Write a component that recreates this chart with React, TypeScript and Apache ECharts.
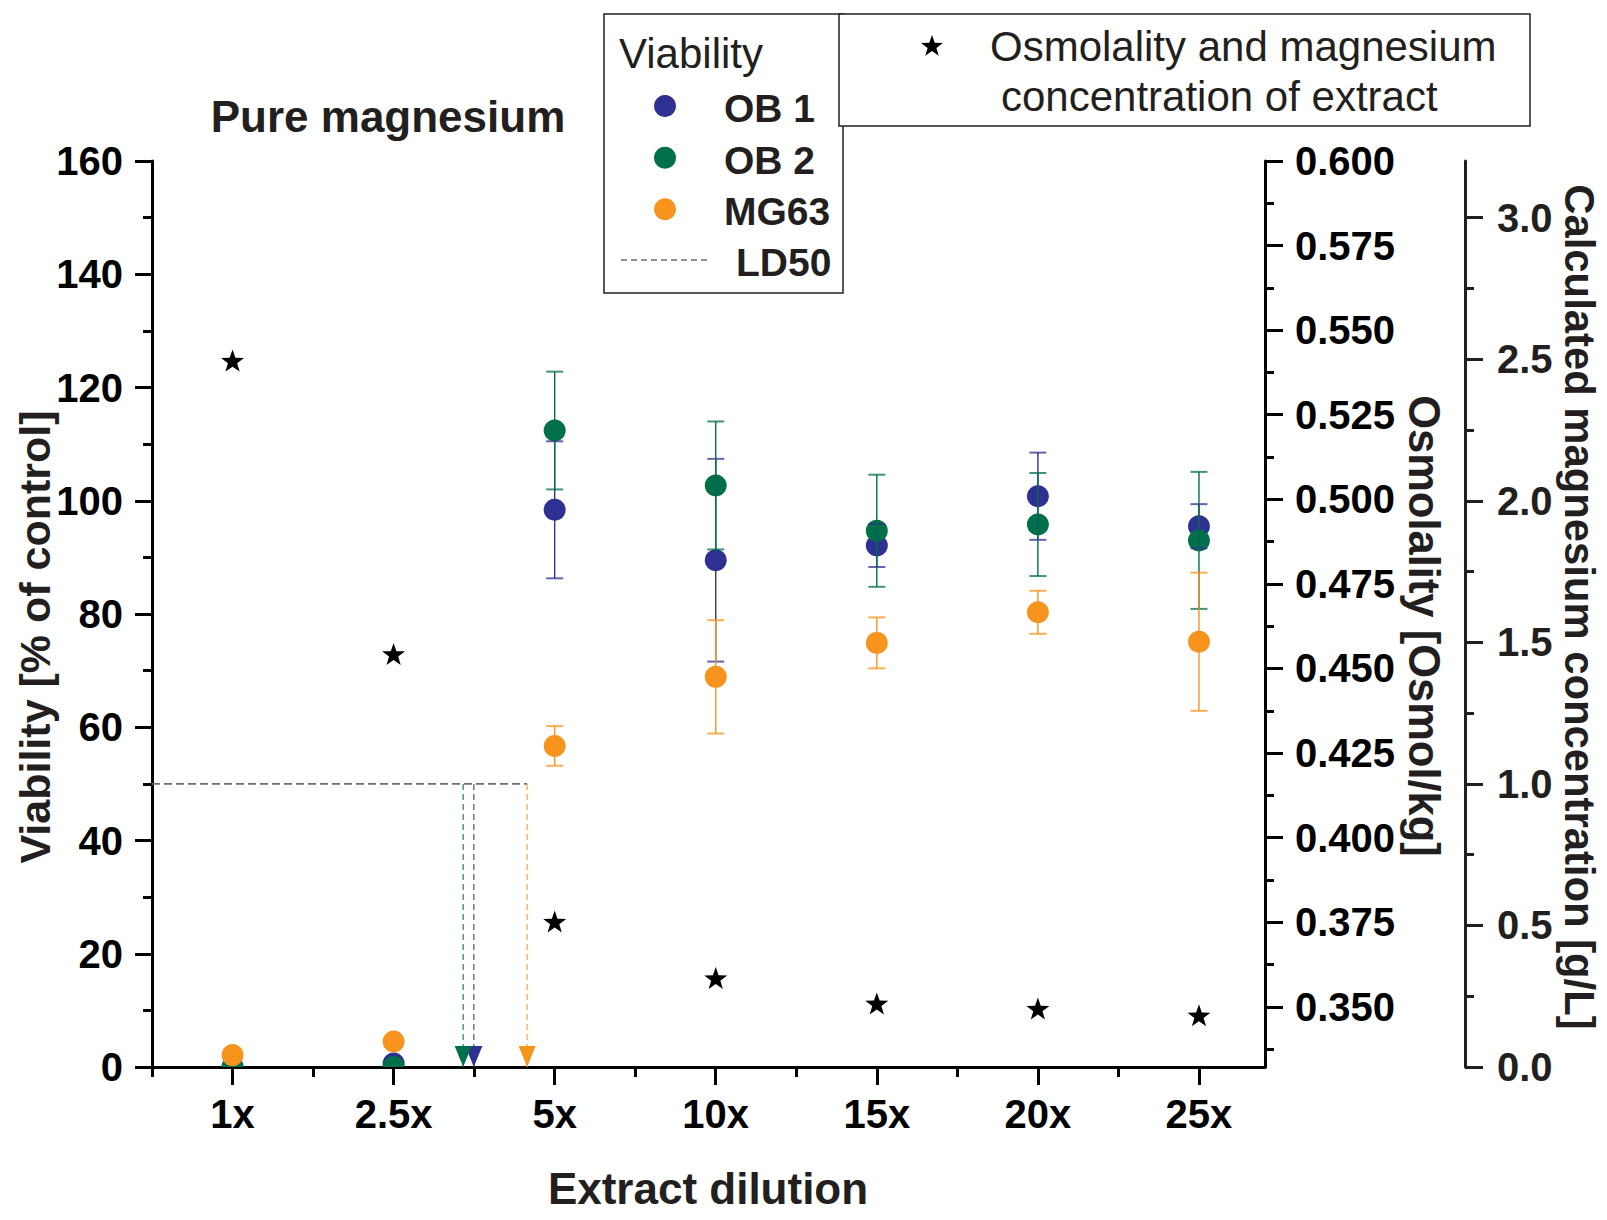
import React, { useEffect, useRef } from "react";
import * as echarts from "echarts";

// ---------- data ----------
const categories = ["1x", "2.5x", "5x", "10x", "15x", "20x", "25x"];
const xPositions = [1, 2, 3, 4, 5, 6, 7];
const xMinorTicks = [0.5, 1.5, 2.5, 3.5, 4.5, 5.5, 6.5];

const ob1Mean = [0, 0.6, 98.4, 89.5, 92.1, 100.8, 95.5];
const ob1Sd = [0, 0, 12.1, 17.9, 3.8, 7.7, 3.9];
const ob2Mean = [0, 0, 112.4, 102.7, 94.7, 95.8, 93.0];
const ob2Sd = [0, 0, 10.4, 11.3, 9.9, 9.1, 12.1];
const mg63Mean = [2.1, 4.5, 56.7, 68.9, 74.9, 80.3, 75.1];
const mg63Sd = [0, 0, 3.5, 10.0, 4.5, 3.8, 12.2];

const osmolality = [0.541, 0.4543, 0.3752, 0.3585, 0.351, 0.3495, 0.3475];

const ld50Names = ["OB 1", "OB 2", "MG63"];
const ld50Positions = [2.498, 2.432, 2.829];
const ld50Level = 50;

const viabilityMin = 0;
const viabilityMax = 160;
const viabilityInterval = 20;

const osmMin = 0.3322;
const osmMax = 0.6;
const osmTicks = [0.35, 0.375, 0.4, 0.425, 0.45, 0.475, 0.5, 0.525, 0.55, 0.575, 0.6];
const osmMinorTicks = [0.3375, 0.3625, 0.3875, 0.4125, 0.4375, 0.4625, 0.4875, 0.5125, 0.5375, 0.5625, 0.5875];

const mgMin = 0;
const mgMax = 3.2;
const mgTicks = [0, 0.5, 1.0, 1.5, 2.0, 2.5, 3.0];
const mgMinorTicks = [0.25, 0.75, 1.25, 1.75, 2.25, 2.75];

const xMin = 0.5;
const xMax = 7.41;

// ---------- styles ----------
const FONT = "'Liberation Sans', Arial, Helvetica, sans-serif";
const BLUE = "#2e3192";
const GREEN = "#00704a";
const ORANGE = "#f7941d";
const INK = "#231f20";
const AXIS = "#000000";
const GRAY = "#6d6e71";
const MARKER_R = 11;

const STAR_PATH =
  "path://M0,-10 L2.35,-3.24 L9.51,-3.09 L3.8,1.24 L5.88,8.09 L0,4 L-5.88,8.09 L-3.8,1.24 L-9.51,-3.09 L-2.35,-3.24 Z";

function starPoints(cx: number, cy: number, R: number, r: number) {
  const pts: number[][] = [];
  for (let i = 0; i < 10; i++) {
    const rad = i % 2 === 0 ? R : r;
    const a = -Math.PI / 2 + (i * Math.PI) / 5;
    pts.push([cx + rad * Math.cos(a), cy + rad * Math.sin(a)]);
  }
  return pts;
}

function errData(mean: number[], sd: number[]) {
  const out: number[][] = [];
  mean.forEach((m, i) => {
    if (sd[i] > 0) out.push([xPositions[i], m - sd[i], m + sd[i]]);
  });
  return out;
}

function pointData(mean: number[]) {
  return mean.map((m, i) => [xPositions[i], m]);
}

// circles drawn through a clipped custom series so that points on the
// x axis are cut at the plot edge, as in the reference
function pointSeries(name: string, color: string, mean: number[], z: number) {
  return {
    type: "custom",
    name,
    xAxisIndex: 0,
    yAxisIndex: 0,
    z,
    clip: true,
    encode: { x: 0, y: 1 },
    data: pointData(mean),
    renderItem: (params: any, api: any) => {
      const p = api.coord([api.value(0), api.value(1)]);
      return {
        type: "circle",
        shape: { cx: p[0], cy: p[1], r: MARKER_R },
        style: { fill: color },
      };
    },
  };
}

function errorSeries(name: string, color: string, mean: number[], sd: number[], z: number) {
  return {
    type: "custom",
    name: name + " error",
    xAxisIndex: 0,
    yAxisIndex: 0,
    z,
    encode: { x: 0, y: [1, 2] },
    data: errData(mean, sd),
    renderItem: (params: any, api: any) => {
      const x = api.value(0);
      const lo = api.value(1);
      const hi = api.value(2);
      const pHi = api.coord([x, hi]);
      const pLo = api.coord([x, lo]);
      const cap = 8.5;
      return {
        type: "group",
        children: [
          {
            type: "line",
            shape: { x1: pHi[0], y1: pHi[1], x2: pLo[0], y2: pLo[1] },
            style: { stroke: color, lineWidth: 1.4 },
          },
          {
            type: "line",
            shape: { x1: pHi[0] - cap, y1: pHi[1], x2: pHi[0] + cap, y2: pHi[1] },
            style: { stroke: color, lineWidth: 2, opacity: 0.75 },
          },
          {
            type: "line",
            shape: { x1: pLo[0] - cap, y1: pLo[1], x2: pLo[0] + cap, y2: pLo[1] },
            style: { stroke: color, lineWidth: 2, opacity: 0.75 },
          },
        ],
      };
    },
  };
}

export default function App() {
  const ref = useRef<HTMLDivElement>(null);

  useEffect(() => {
    document.body.style.margin = "0";
    if (!ref.current) return;
    const chart = echarts.init(ref.current, undefined, { renderer: "svg" });

    const tickLine = { color: AXIS, width: 3 };
    const tickLabel = { fontSize: 40, fontWeight: "bold", color: AXIS, fontFamily: FONT };
    const ldColors = [BLUE, GREEN, ORANGE];
    const ldMax = Math.max(...ld50Positions);

    const ldSeries: any[] = [];
    ldSeries.push({
      type: "line",
      name: "LD50",
      xAxisIndex: 0,
      yAxisIndex: 0,
      z: 1,
      symbol: "none",
      silent: true,
      data: [
        [xMin, ld50Level],
        [ldMax, ld50Level],
      ],
      lineStyle: { color: GRAY, width: 1.6, type: [8, 4] },
    });
    ld50Positions.forEach((p, i) => {
      ldSeries.push({
        type: "line",
        name: ld50Names[i] + " LD50",
        xAxisIndex: 0,
        yAxisIndex: 0,
        z: 1,
        symbol: "none",
        silent: true,
        data: [
          [p, ld50Level],
          [p, 0],
        ],
        lineStyle: { color: ldColors[i], width: 1.4, type: [6, 4], opacity: 0.75 },
      });
      ldSeries.push({
        type: "scatter",
        name: ld50Names[i] + " LD50 marker",
        xAxisIndex: 0,
        yAxisIndex: 0,
        z: 3,
        symbol: "triangle",
        symbolSize: [17, 21],
        symbolRotate: 180,
        symbolOffset: [0, -10.5],
        itemStyle: { color: ldColors[i], opacity: 1 },
        data: [[p, 0]],
      });
    });

    const legendGraphics: any[] = [
      // title
      {
        type: "text",
        x: 388,
        y: 116,
        style: { text: "Pure magnesium", fontSize: 44, fontWeight: "bold", fontFamily: FONT, fill: INK, align: "center", verticalAlign: "middle" },
      },
      // axis titles
      {
        type: "text",
        x: 35,
        y: 637,
        rotation: Math.PI / 2,
        style: { text: "Viability [% of control]", fontSize: 43, fontWeight: "bold", fontFamily: FONT, fill: INK, align: "center", verticalAlign: "middle" },
      },
      {
        type: "text",
        x: 708,
        y: 1188,
        style: { text: "Extract dilution", fontSize: 44, fontWeight: "bold", fontFamily: FONT, fill: INK, align: "center", verticalAlign: "middle" },
      },
      {
        type: "text",
        x: 1424,
        y: 626,
        rotation: -Math.PI / 2,
        style: { text: "Osmolality [Osmol/kg]", fontSize: 43.5, fontWeight: "bold", fontFamily: FONT, fill: INK, align: "center", verticalAlign: "middle" },
      },
      {
        type: "text",
        x: 1579,
        y: 607,
        rotation: -Math.PI / 2,
        style: { text: "Calculated magnesium concentration [g/L]", fontSize: 41.8, fontWeight: "bold", fontFamily: FONT, fill: INK, align: "center", verticalAlign: "middle" },
      },
      // legend box 1
      {
        type: "rect",
        shape: { x: 604, y: 14, width: 239, height: 279 },
        style: { fill: "#fff", stroke: INK, lineWidth: 1.5 },
        z: 10,
      },
      {
        type: "text",
        x: 619,
        y: 53,
        z: 11,
        style: { text: "Viability", fontSize: 42, fontWeight: "normal", fontFamily: FONT, fill: INK, align: "left", verticalAlign: "middle" },
      },
      { type: "circle", z: 11, shape: { cx: 665, cy: 106, r: MARKER_R }, style: { fill: BLUE } },
      { type: "circle", z: 11, shape: { cx: 665, cy: 157.7, r: MARKER_R }, style: { fill: GREEN } },
      { type: "circle", z: 11, shape: { cx: 665, cy: 209.3, r: MARKER_R }, style: { fill: ORANGE } },
      {
        type: "text",
        x: 724,
        y: 108,
        z: 11,
        style: { text: "OB 1", fontSize: 39, fontWeight: "bold", fontFamily: FONT, fill: INK, align: "left", verticalAlign: "middle" },
      },
      {
        type: "text",
        x: 724,
        y: 160,
        z: 11,
        style: { text: "OB 2", fontSize: 39, fontWeight: "bold", fontFamily: FONT, fill: INK, align: "left", verticalAlign: "middle" },
      },
      {
        type: "text",
        x: 724,
        y: 211.5,
        z: 11,
        style: { text: "MG63", fontSize: 39, fontWeight: "bold", fontFamily: FONT, fill: INK, align: "left", verticalAlign: "middle" },
      },
      {
        type: "line",
        z: 11,
        shape: { x1: 621, y1: 260, x2: 707, y2: 260 },
        style: { stroke: GRAY, lineWidth: 1.5, lineDash: [6, 4] },
      },
      {
        type: "text",
        x: 736,
        y: 262,
        z: 11,
        style: { text: "LD50", fontSize: 39, fontWeight: "bold", fontFamily: FONT, fill: INK, align: "left", verticalAlign: "middle" },
      },
      // legend box 2
      {
        type: "rect",
        shape: { x: 839, y: 14, width: 691, height: 112 },
        style: { fill: "#fff", stroke: INK, lineWidth: 1.5 },
        z: 10,
      },
      {
        type: "polygon",
        z: 11,
        shape: { points: starPoints(932, 46.5, 11.5, 4.6) },
        style: { fill: "#000" },
      },
      {
        type: "text",
        x: 990,
        y: 46,
        z: 11,
        style: { text: "Osmolality and magnesium", fontSize: 42, fontWeight: "normal", fontFamily: FONT, fill: INK, align: "left", verticalAlign: "middle" },
      },
      {
        type: "text",
        x: 1001,
        y: 96,
        z: 11,
        style: { text: "concentration of extract", fontSize: 42, fontWeight: "normal", fontFamily: FONT, fill: INK, align: "left", verticalAlign: "middle" },
      },
    ];

    const option: any = {
      animation: false,
      backgroundColor: "#ffffff",
      grid: { left: 152, top: 161, width: 1113, height: 906, containLabel: false },
      xAxis: [
        {
          type: "value",
          min: xMin,
          max: xMax,
          position: "bottom",
          axisLine: { show: true, onZero: false, lineStyle: tickLine },
          axisTick: { show: true, customValues: xPositions, length: 18, lineStyle: tickLine },
          axisLabel: {
            show: true,
            customValues: xPositions,
            formatter: (v: number) => categories[Math.round(v) - 1] ?? "",
            margin: 27,
            ...tickLabel,
          },
          splitLine: { show: false },
        },
        {
          type: "value",
          min: xMin,
          max: xMax,
          position: "bottom",
          axisLine: { show: false, onZero: false },
          axisTick: { show: true, customValues: xMinorTicks, length: 10, lineStyle: tickLine },
          axisLabel: { show: false },
          splitLine: { show: false },
        },
      ],
      yAxis: [
        {
          type: "value",
          min: viabilityMin,
          max: viabilityMax,
          interval: viabilityInterval,
          position: "left",
          axisLine: { show: true, onZero: false, lineStyle: tickLine },
          axisTick: { show: true, length: 17, lineStyle: tickLine },
          minorTick: { show: true, splitNumber: 2, length: 9, lineStyle: tickLine },
          axisLabel: { show: true, margin: 29, ...tickLabel },
          splitLine: { show: false },
          minorSplitLine: { show: false },
        },
        {
          type: "value",
          min: osmMin,
          max: osmMax,
          position: "right",
          offset: 0,
          axisLine: { show: true, onZero: false, lineStyle: tickLine },
          axisTick: { show: true, customValues: osmTicks, length: 18, lineStyle: tickLine },
          axisLabel: { show: true, customValues: osmTicks, formatter: (v: number) => v.toFixed(3), margin: 30, ...tickLabel },
          splitLine: { show: false },
        },
        {
          type: "value",
          min: osmMin,
          max: osmMax,
          position: "right",
          offset: 0,
          axisLine: { show: false, onZero: false },
          axisTick: { show: true, customValues: osmMinorTicks, length: 9, lineStyle: tickLine },
          axisLabel: { show: false },
          splitLine: { show: false },
        },
        {
          type: "value",
          min: mgMin,
          max: mgMax,
          position: "right",
          offset: 200,
          axisLine: { show: true, onZero: false, lineStyle: { color: INK, width: 3 } },
          axisTick: { show: true, customValues: mgTicks, length: 18, lineStyle: { color: INK, width: 3 } },
          axisLabel: { show: true, customValues: mgTicks, formatter: (v: number) => v.toFixed(1), margin: 32, ...tickLabel, color: INK },
          splitLine: { show: false },
        },
        {
          type: "value",
          min: mgMin,
          max: mgMax,
          position: "right",
          offset: 200,
          axisLine: { show: false, onZero: false },
          axisTick: { show: true, customValues: mgMinorTicks, length: 9, lineStyle: { color: INK, width: 3 } },
          axisLabel: { show: false },
          splitLine: { show: false },
        },
      ],
      series: [
        ...ldSeries,
        pointSeries("OB 1", BLUE, ob1Mean, 4),
        pointSeries("OB 2", GREEN, ob2Mean, 5),
        pointSeries("MG63", ORANGE, mg63Mean, 6),
        errorSeries("OB 1", BLUE, ob1Mean, ob1Sd, 7),
        errorSeries("OB 2", GREEN, ob2Mean, ob2Sd, 8),
        errorSeries("MG63", ORANGE, mg63Mean, mg63Sd, 9),
        {
          type: "scatter",
          name: "Osmolality",
          xAxisIndex: 0,
          yAxisIndex: 1,
          z: 6,
          symbol: STAR_PATH,
          symbolSize: [23, 22],
          itemStyle: { color: "#000", opacity: 1 },
          data: osmolality.map((v, i) => [xPositions[i], v]),
        },
      ],
      graphic: { elements: legendGraphics },
    };

    chart.setOption(option);
    return () => {
      chart.dispose();
    };
  }, []);

  return <div ref={ref} style={{ width: 1607, height: 1220 }} />;
}
